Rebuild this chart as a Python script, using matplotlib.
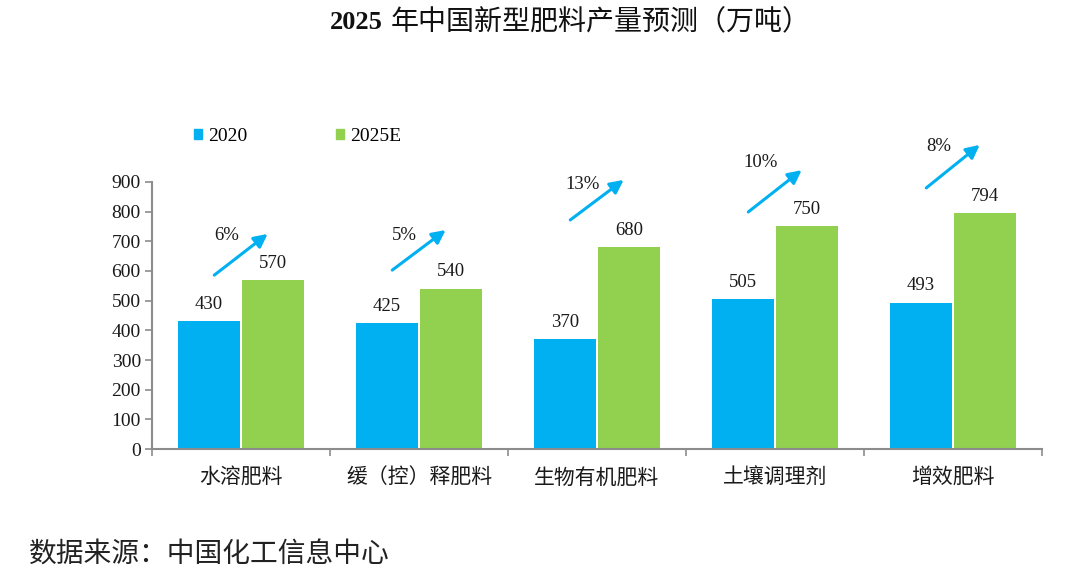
import matplotlib
matplotlib.use('Agg')
import matplotlib.pyplot as plt
from matplotlib.patches import Patch
import numpy as np

plt.rcParams['font.family'] = ['Liberation Serif', 'Noto Sans CJK SC']

# 数据
categories = ['水溶肥料', '缓（控）释肥料', '生物有机肥料', '土壤调理剂', '增效肥料']
values_2020 = [430, 425, 370, 505, 493]
values_2025 = [570, 540, 680, 750, 794]
growth = ['6%', '5%', '13%', '10%', '8%']
# 箭头起止高度（数据坐标，读图估计）
arrow_y0 = [586, 603, 772, 799, 880]
arrow_y1 = [725, 738, 907, 940, 1025]
label_y = [718, 718, 890, 964, 1018]

BLUE = '#00B0F0'
GREEN = '#92D050'
SPINE = '#8C8C8C'
TXT = '#1a1a1a'

fig = plt.figure(figsize=(10.8, 5.79), dpi=100)
ax = fig.add_axes([0.1407, 0.2245, 0.8241, 0.4612])

x = np.arange(len(categories))
w = 0.348
b1 = ax.bar(x - 0.18, values_2020, w, color=BLUE)
b2 = ax.bar(x + 0.18, values_2025, w, color=GREEN)

for rects, vals in [(b1, values_2020), (b2, values_2025)]:
    for r, v in zip(rects, vals):
        ax.annotate(str(v), (r.get_x() + r.get_width() / 2, v),
                    xytext=(0, 6), textcoords='offset points',
                    ha='center', va='bottom', fontsize=13.5, color=TXT)

# 增长率箭头
for i, g in enumerate(growth):
    ax.annotate('', xy=(i + 0.15, arrow_y1[i]), xytext=(i - 0.15, arrow_y0[i]),
                arrowprops=dict(arrowstyle='-|>', color=BLUE, lw=2.2,
                                mutation_scale=20, shrinkA=0, shrinkB=0),
                annotation_clip=False)
    ax.text(i - 0.08, label_y[i], g, ha='center', va='center',
            fontsize=13.5, color=TXT, clip_on=False)

ax.set_xlim(-0.5, len(categories) - 0.5)
ax.set_ylim(0, 900)
ax.set_yticks(range(0, 901, 100))
ax.set_xticks(x)
ax.set_xticklabels(categories, fontsize=15, color=TXT)
ax.set_xticks(np.arange(-0.5, len(categories)), minor=True)
ax.tick_params(axis='x', which='major', length=0, pad=14)
ax.tick_params(axis='x', which='minor', length=5, color=SPINE, width=1.2)
ax.tick_params(axis='y', length=5, color=SPINE, width=1.2, labelsize=14,
               labelcolor=TXT, pad=3)

for s in ['top', 'right']:
    ax.spines[s].set_visible(False)
for s in ['left', 'bottom']:
    ax.spines[s].set_color(SPINE)
    ax.spines[s].set_linewidth(1.5)

handles = [Patch(color=BLUE, label='2020'), Patch(color=GREEN, label='2025E')]
fig.legend(handles=handles, loc='center left', bbox_to_anchor=(0.1635, 0.765),
           ncol=2, frameon=False, fontsize=14, handlelength=0.4,
           handleheight=0.4, handletextpad=0.3, columnspacing=4.6)

# 标题：数字加粗，中文常规
fig.text(0.3546, 0.962, '2025', ha='right', va='center',
         fontsize=19, fontweight='bold', color='#111111')
fig.text(0.3620, 0.962, '年中国新型肥料产量预测（万吨）', ha='left', va='center',
         fontsize=20.2, color='#111111')
fig.text(0.027, 0.042, '数据来源：中国化工信息中心', ha='left', va='center',
         fontsize=20, family=['Noto Sans CJK SC'], color='#222222')

fig.savefig('out.png', dpi=100, facecolor='white')
